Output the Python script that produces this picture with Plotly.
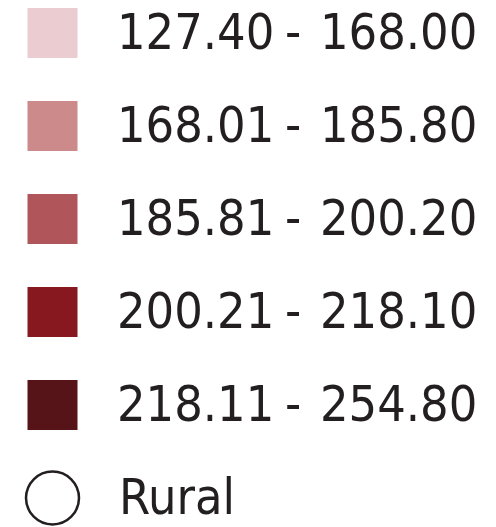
import plotly.graph_objects as go

# class breaks
lows = ["127.40", "168.01", "185.81", "200.21", "218.11"]
highs = ["168.00", "185.80", "200.20", "218.10", "254.80"]
colors = ["#ebcdd1", "#cc8a8b", "#b0565b", "#881820", "#561318"]
extra_label = "Rural"

FONT = "DejaVu Sans Condensed, Liberation Sans, sans-serif"
TXT = "#231f20"
OFF = 8  # page body margin

rows = list(range(len(lows)))
fig = go.Figure()

# colour squares
fig.add_trace(go.Scatter(x=[52.5] * len(rows), y=rows, mode="markers",
                         marker=dict(symbol="square", size=50, color=colors,
                                     line=dict(width=0)),
                         showlegend=False, hoverinfo="skip"))
# open circle for rural
fig.add_trace(go.Scatter(x=[52.5], y=[len(rows)], mode="markers",
                         marker=dict(symbol="circle-open", size=53, color=TXT,
                                     line=dict(width=2.5, color=TXT)),
                         showlegend=False, hoverinfo="skip"))

for i, (lo, hi) in enumerate(zip(lows, highs)):
    fig.add_annotation(x=115, y=i, text=lo, xanchor="left", showarrow=False)
    fig.add_annotation(x=293, y=i, text="-", xanchor="center", showarrow=False)
    fig.add_annotation(x=318, y=i, text=hi, xanchor="left", showarrow=False)
fig.add_annotation(x=117, y=len(rows), text=extra_label, xanchor="left", showarrow=False)

fig.update_annotations(font=dict(family=FONT, size=50, color=TXT), yanchor="middle", yshift=1)

W, H = 496 - OFF, 527 - OFF
fig.update_layout(
    width=W, height=H,
    margin=dict(l=0, r=0, t=0, b=0),
    plot_bgcolor="white", paper_bgcolor="white",
    xaxis=dict(range=[OFF, OFF + W], visible=False, fixedrange=True),
    yaxis=dict(range=[(OFF + H - 33) / 93, (OFF - 33) / 93], visible=False, fixedrange=True),
)

fig.write_html("out.html")
